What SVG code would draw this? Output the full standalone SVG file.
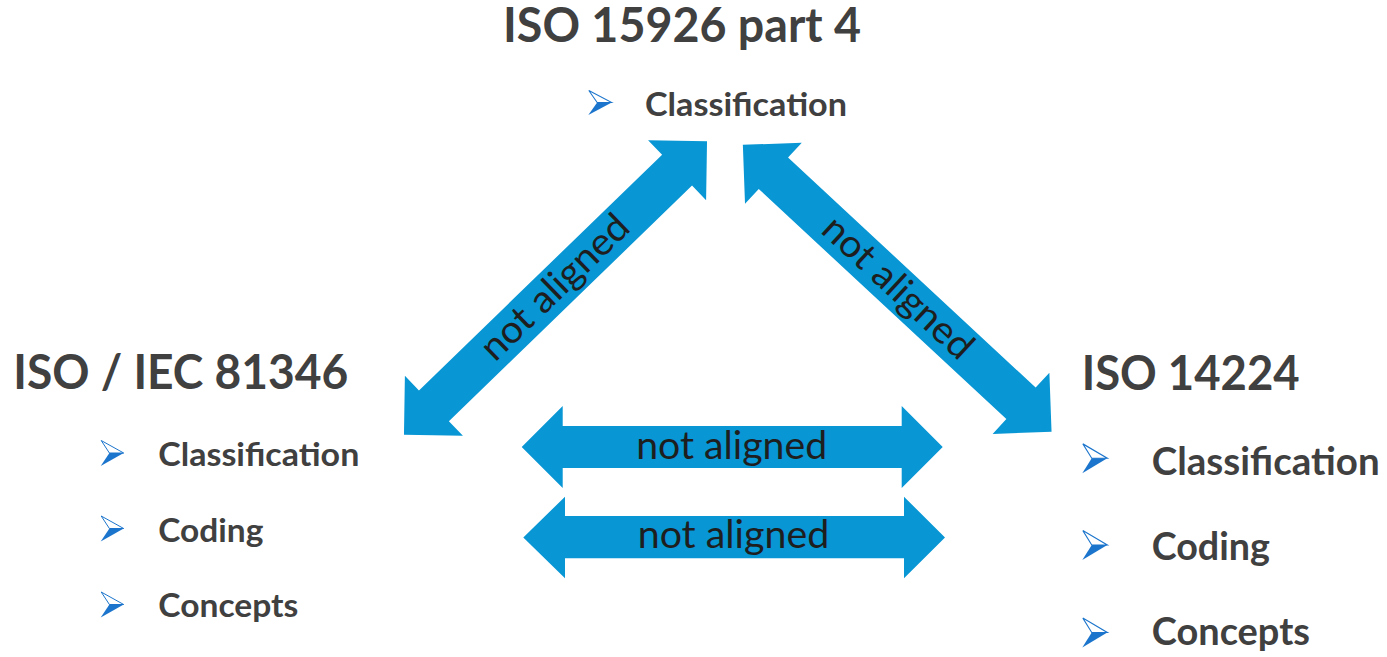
<svg xmlns="http://www.w3.org/2000/svg" width="1387" height="657" viewBox="0 0 1387 657">
  <style>
    .head { font-family: Lato, "Liberation Sans", sans-serif; font-weight: 700; font-size: 47px; fill: #404040; }
    .item { font-family: Lato, "Liberation Sans", sans-serif; font-weight: 700; fill: #404040; }
    .lbl { font-family: Lato, "Liberation Sans", sans-serif; font-weight: 400; font-size: 38px; fill: #1e1e1e; }
    .arrow { fill: #0896D4; }
    .bu { fill: #ffffff; stroke: #1C75CC; stroke-width: 1; stroke-linejoin: miter; }
    .bl { fill: #1C75CC; }
  </style>
  <defs>
    <g id="bullet">
      <polygon class="bu" points="0.5,0.5 23,13 8.7,13"/>
      <polygon class="bl" points="8.7,13 23,13 0,26"/>
    </g>
  </defs>
  <rect width="1387" height="657" fill="#ffffff"/>

  <g id="connectors">
    <g transform="translate(555.5,288) rotate(-44.1)">
      <polygon class="arrow" points="-211,0 -169.3,-41.7 -169.3,-21.5 169.3,-21.5 169.3,-41.7 211,0 169.3,41.7 169.3,21.5 -169.3,21.5 -169.3,41.7"/>
      <text class="lbl" x="0" y="11.5" text-anchor="middle" textLength="191" lengthAdjust="spacingAndGlyphs">not aligned</text>
    </g>
    <g transform="translate(897.2,288.3) rotate(42.9)">
      <polygon class="arrow" points="-210.7,0 -169,-41.7 -169,-21.5 169,-21.5 169,-41.7 210.7,0 169,41.7 169,21.5 -169,21.5 -169,41.7"/>
      <text class="lbl" x="0" y="11.5" text-anchor="middle" textLength="191" lengthAdjust="spacingAndGlyphs">not aligned</text>
    </g>
    <g>
      <polygon class="arrow" points="521.7,447 562.7,406 562.7,426 901.7,426 901.7,406 942.7,447 901.7,488 901.7,468 562.7,468 562.7,488"/>
      <text class="lbl" x="731.7" y="459.3" text-anchor="middle" textLength="191" lengthAdjust="spacingAndGlyphs">not aligned</text>
    </g>
    <g>
      <polygon class="arrow" points="523.3,537.5 565,496.7 565,516 904,516 904,496.7 945,537.5 904,578.3 904,558.3 565,558.3 565,578.3"/>
      <text class="lbl" x="733.5" y="548.3" text-anchor="middle" textLength="191.6" lengthAdjust="spacingAndGlyphs">not aligned</text>
    </g>
  </g>

  <g id="node-iso15926">
    <text class="head" x="503" y="41.7" textLength="358" lengthAdjust="spacingAndGlyphs">ISO 15926 part 4</text>
    <use href="#bullet" transform="translate(588.3,90) scale(1.02,0.96)"/>
    <text class="item" x="645" y="116" font-size="33" textLength="202" lengthAdjust="spacingAndGlyphs">Classification</text>
  </g>

  <g id="node-iec81346">
    <text class="head" x="13.3" y="389" textLength="335" lengthAdjust="spacingAndGlyphs">ISO / IEC 81346</text>
    <use href="#bullet" transform="translate(100.7,440)"/>
    <text class="item" x="158.3" y="466" font-size="33" textLength="201" lengthAdjust="spacingAndGlyphs">Classification</text>
    <use href="#bullet" transform="translate(100.7,515.5)"/>
    <text class="item" x="158.3" y="541.7" font-size="33" textLength="105" lengthAdjust="spacingAndGlyphs">Coding</text>
    <use href="#bullet" transform="translate(100.7,591.5)"/>
    <text class="item" x="158.3" y="616.7" font-size="33" textLength="140" lengthAdjust="spacingAndGlyphs">Concepts</text>
  </g>

  <g id="node-iso14224">
    <text class="head" x="1081.7" y="390" textLength="218" lengthAdjust="spacingAndGlyphs">ISO 14224</text>
    <use href="#bullet" transform="translate(1082.3,443.3) scale(1.087,1.15)"/>
    <text class="item" x="1151.7" y="475" font-size="37.5" textLength="228" lengthAdjust="spacingAndGlyphs">Classification</text>
    <use href="#bullet" transform="translate(1082.3,530) scale(1.087,1.15)"/>
    <text class="item" x="1151.7" y="560" font-size="37.5" textLength="118.3" lengthAdjust="spacingAndGlyphs">Coding</text>
    <use href="#bullet" transform="translate(1082.3,617.5) scale(1.087,1.15)"/>
    <text class="item" x="1151.7" y="645" font-size="37.5" textLength="158.3" lengthAdjust="spacingAndGlyphs">Concepts</text>
  </g>
</svg>
